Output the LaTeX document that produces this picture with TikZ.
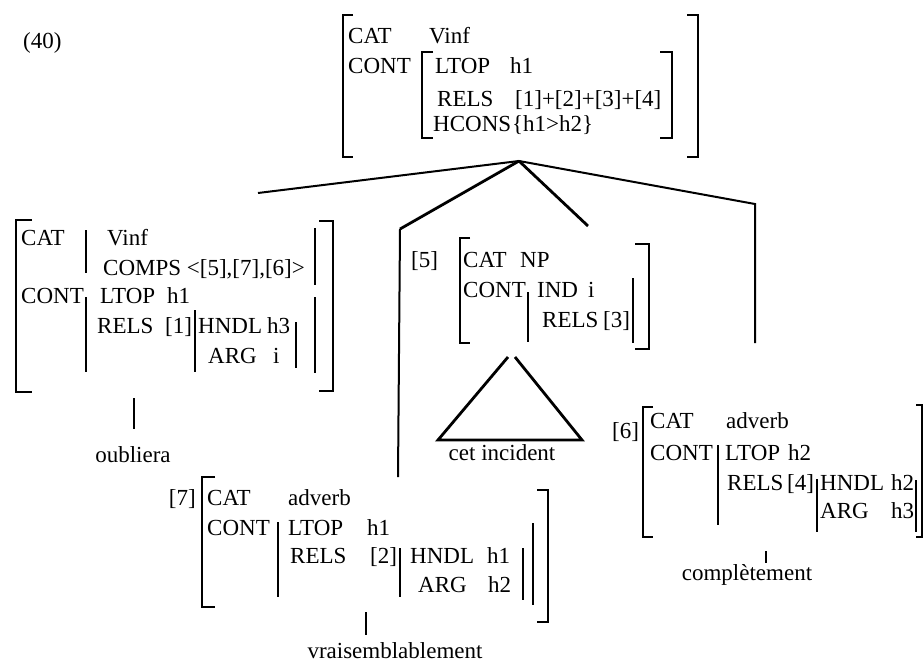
\documentclass[tikz,border=0pt]{standalone}
\usepackage{fontspec}
\setmainfont{Liberation Serif}
\tikzset{
  feat/.style={anchor=base west, inner sep=0pt, font=\fontsize{23}{27}\selectfont},
  tag/.style={feat},
  word/.style={feat, anchor=base},
  brk/.style={line width=2.6pt},
  bar/.style={line width=2.6pt},
  branch/.style={line width=2pt},
  thickbranch/.style={line width=2.8pt},
}
% brackets: x, top, bottom, tick length
\newcommand{\avmlb}[4]{\draw[brk] (#1,#2) ++(#4,0) -- ++(-#4,0) -- (#1,#3) -- ++(#4,0);}
\newcommand{\avmrb}[4]{\draw[brk] (#1,#2) ++(-#4,0) -- ++(#4,0) -- (#1,#3) -- ++(-#4,0);}
\newcommand{\avmbar}[3]{\draw[bar] (#1,#2) -- (#1,#3);}

\begin{document}
\begin{tikzpicture}[x=1pt, y=-1pt]
  \useasboundingbox (0,0) rectangle (924,664);

  \node[feat] (num) at (23,48) {(40)};

  % mother
  \node[feat] (m-cat)   at (348,43)  {CAT};
  \node[feat] (m-vinf)  at (429,43)  {Vinf};
  \node[feat] (m-cont)  at (348,73)  {CONT};
  \node[feat] (m-ltop)  at (435,73)  {LTOP};
  \node[feat] (m-h1)    at (510,73)  {h1};
  \node[feat] (m-rels)  at (437,106) {RELS};
  \node[feat] (m-relv)  at (515,106) {[1]+[2]+[3]+[4]};
  \node[feat] (m-hcons) at (433,131) {HCONS};
  \node[feat] (m-hcv)   at (512,131) {\{h1>h2\}};
  \avmlb{343}{15}{157}{10}
  \avmrb{698}{15}{157}{11}
  \avmlb{422}{52}{138}{11}
  \avmrb{672}{52}{138}{12}

  % head verb
  \node[feat] (v-cat)   at (21,245)  {CAT};
  \node[feat] (v-vinf)  at (107,245) {Vinf};
  \node[feat] (v-comps) at (103,275) {COMPS <[5],[7],[6]>};
  \node[feat] (v-cont)  at (21,303)  {CONT};
  \node[feat] (v-ltop)  at (100,303) {LTOP};
  \node[feat] (v-h1)    at (167,303) {h1};
  \node[feat] (v-rels)  at (97,333)  {RELS};
  \node[feat] (v-r1)    at (165,333) {[1]};
  \node[feat] (v-hndl)  at (198,333) {HNDL};
  \node[feat] (v-h3)    at (267,333) {h3};
  \node[feat] (v-arg)   at (208,363) {ARG};
  \node[feat] (v-i)     at (273,363) {i};
  \avmlb{16}{220}{392}{16}
  \avmrb{333}{221}{391}{14}
  \avmbar{86}{230}{273}
  \avmbar{315}{228}{285}
  \avmbar{86}{297}{372}
  \avmbar{195}{310}{372}
  \avmbar{296}{322}{368}
  \avmbar{315}{297}{373}
  \node[word] (oubliera) at (133,462) {oubliera};

  % NP [5]
  \node[tag]  (np-tag)  at (411,267) {[5]};
  \node[feat] (np-cat)  at (463,267) {CAT};
  \node[feat] (np-np)   at (520,267) {NP};
  \node[feat] (np-cont) at (463,297) {CONT};
  \node[feat] (np-ind)  at (537,297) {IND};
  \node[feat] (np-i)    at (588,297) {i};
  \node[feat] (np-rels) at (542,327) {RELS};
  \node[feat] (np-r3)   at (603,327) {[3]};
  \avmlb{460}{238}{343}{10}
  \avmrb{649}{244}{349}{14}
  \avmbar{528}{292}{342}
  \avmbar{633}{278}{343}
  \node[word] (incident) at (502,460) {cet incident};
  \draw[thickbranch] (508,357) -- (438,440) -- (582,440) -- (515,357);

  % adverb [6]
  \node[tag]  (a6-tag)  at (612,438) {[6]};
  \node[feat] (a6-cat)  at (650,428) {CAT};
  \node[feat] (a6-adv)  at (726,428) {adverb};
  \node[feat] (a6-cont) at (650,460) {CONT};
  \node[feat] (a6-ltop) at (725,460) {LTOP};
  \node[feat] (a6-h2)   at (788,460) {h2};
  \node[feat] (a6-rels) at (727,490) {RELS};
  \node[feat] (a6-r4)   at (787,490) {[4]};
  \node[feat] (a6-hndl) at (820,490) {HNDL};
  \node[feat] (a6-hh2)  at (891,490) {h2};
  \node[feat] (a6-arg)  at (820,518) {ARG};
  \node[feat] (a6-h3)   at (891,518) {h3};
  \avmlb{643}{407}{537}{10}
  \avmrb{922}{405}{537}{6}
  \avmbar{718}{445}{525}
  \avmbar{817}{479}{532}
  \avmbar{916}{480}{532}
  \node[word] (completement) at (747,580) {complètement};

  % adverb [7]
  \node[tag, anchor=base east] (a7-tag) at (196,505) {[7]};
  \node[feat] (a7-cat)  at (207,505) {CAT};
  \node[feat] (a7-adv)  at (288,505) {adverb};
  \node[feat] (a7-cont) at (207,535) {CONT};
  \node[feat] (a7-ltop) at (288,535) {LTOP};
  \node[feat] (a7-h1)   at (367,535) {h1};
  \node[feat] (a7-rels) at (290,563) {RELS};
  \node[feat] (a7-r2)   at (370,563) {[2]};
  \node[feat] (a7-hndl) at (410,563) {HNDL};
  \node[feat] (a7-hh1)  at (487,563) {h1};
  \node[feat] (a7-arg)  at (418,592) {ARG};
  \node[feat] (a7-h2)   at (488,592) {h2};
  \avmlb{202}{477}{607}{13}
  \avmrb{548}{490}{622}{11}
  \avmbar{278}{522}{597}
  \avmbar{400}{548}{597}
  \avmbar{523}{548}{600}
  \avmbar{533}{523}{605}
  \node[word] (vraisembl) at (395,658) {vraisemblablement};

  % tree
  \coordinate (apex)  at (519,161);
  \coordinate (to-v)  at (258,193);
  \coordinate (to-7a) at (400,229);
  \coordinate (to-7b) at (398,477);
  \coordinate (to-5)  at (588,226);
  \coordinate (to-6a) at (755,204);
  \coordinate (to-6b) at (755,343);
  \draw[branch] (apex) -- (to-v);
  \draw[thickbranch] (apex) -- (to-7a);
  \draw[branch] (to-7a) -- (to-7b);
  \draw[thickbranch] (apex) -- (to-5);
  \draw[branch] (apex) -- (to-6a) -- (to-6b);

  % stems to words
  \draw[bar] (134,398) -- (134,429);
  \draw[bar] (766,551) -- (766,563);
  \draw[bar] (366,612) -- (366,635);
\end{tikzpicture}
\end{document}
